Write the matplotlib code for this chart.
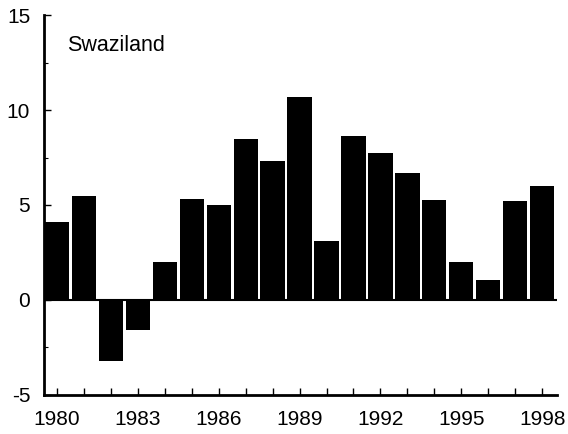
import numpy as np
import matplotlib.pyplot as plt
from matplotlib.ticker import MultipleLocator

# Data
years = list(range(1980, 1999))
values = [4.1, 5.5, -3.2, -1.6, 2.0, 5.3, 5.0, 8.45, 7.3, 10.7,
          3.1, 8.65, 7.75, 6.7, 5.25, 2.0, 1.05, 5.2, 6.0]
label_years = [1980, 1983, 1986, 1989, 1992, 1995, 1998]
y_ticks = [-5, 0, 5, 10, 15]
country = 'Swaziland'

plt.rcParams['font.family'] = ['Liberation Sans', 'DejaVu Sans']
plt.rcParams['axes.unicode_minus'] = False

fig = plt.figure(figsize=(5.68, 4.34), dpi=100)
ax = fig.add_axes([0.0775, 0.0899, 0.9031, 0.8755])

ax.bar(years, values, width=0.9, color='black', edgecolor='none')
ax.axhline(0, color='black', linewidth=1.5)

ax.set_xlim(1979.52, 1998.55)
ax.set_ylim(-5, 15)

# Axes styling: only left and bottom spines, inward ticks
for side in ['top', 'right']:
    ax.spines[side].set_visible(False)
for side in ['left', 'bottom']:
    ax.spines[side].set_linewidth(2)

ax.set_xticks(label_years)
ax.set_xticklabels([str(y) for y in label_years])
ax.xaxis.set_minor_locator(MultipleLocator(1))
ax.set_yticks(y_ticks)
ax.yaxis.set_minor_locator(MultipleLocator(2.5))

ax.tick_params(axis='both', which='both', direction='in', color='black')
ax.tick_params(axis='x', which='both', length=5, width=1, pad=11, labelsize=15)
ax.tick_params(axis='y', which='major', length=5, width=1, pad=10, labelsize=15)
ax.tick_params(axis='y', which='minor', length=3, width=0.8)

ax.text(1980.37, 13.1, country, fontsize=15.5, ha='left', va='baseline')

fig.savefig('out.png', dpi=100)
